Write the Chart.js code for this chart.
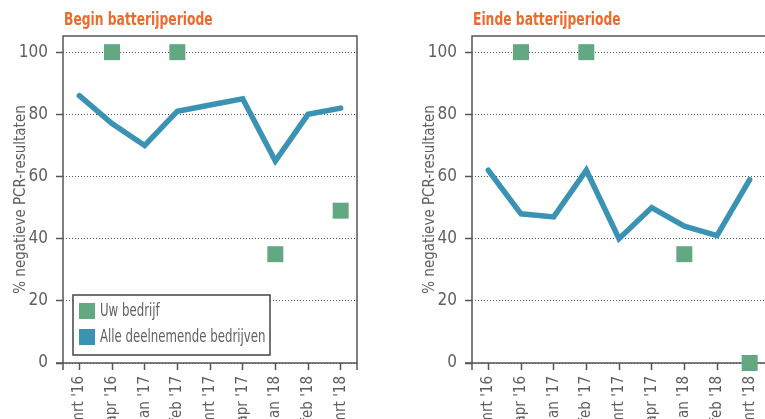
<!DOCTYPE html>
<html>
<head>
<meta charset="utf-8">
<script src="https://cdn.jsdelivr.net/npm/chart.js@4.4.0/dist/chart.umd.min.js"></script>
<style>
html, body { margin: 0; padding: 0; background: #fff; overflow: hidden; width: 765px; height: 419px; }
.panel { position: absolute; top: 0; width: 370px; height: 419px; }
#left { left: 0; }
#right { left: 409px; }
</style>
</head>
<body>
<div class="panel" id="left"><canvas id="chartBegin"></canvas></div>
<div class="panel" id="right"><canvas id="chartEnd"></canvas></div>
<script>
// data
const months = ["mrt '16", "apr '16", "jan '17", "feb '17", "mrt '17", "apr '17", "jan '18", "feb '18", "mrt '18"];
const yTicks = [0, 20, 40, 60, 80, 100];
const beginAll = [86, 77, 70, 81, 83, 85, 65, 80, 82];
const beginOwn = [null, 100, null, 100, null, null, 35, null, 49];
const endAll = [62, 48, 47, 62, 40, 50, 44, 41, 59];
const endOwn = [null, 100, null, 100, null, null, 35, null, 0];

const FONT = "'DejaVu Sans Condensed', 'Liberation Sans Narrow', sans-serif";
const GREEN = '#62a883';
const BLUE = '#3a93b3';
const GREY = '#5f5f5f';
Chart.defaults.font.family = FONT;
Chart.defaults.color = GREY;

// draw text squeezed horizontally, the source uses a condensed face
function narrowText(ctx, text, x, y, squeeze) {
    ctx.save();
    ctx.translate(x, y);
    ctx.scale(squeeze, 1);
    ctx.fillText(text, 0, 0);
    ctx.restore();
}

// frame around the plot area
const framePlugin = {
    id: 'frame',
    beforeDatasetsDraw(chart) {
        const a = chart.chartArea;
        const ctx = chart.ctx;
        ctx.save();
        ctx.strokeStyle = '#555';
        ctx.lineWidth = 1.5;
        ctx.beginPath();
        ctx.moveTo(a.left, a.bottom + 7);
        ctx.lineTo(a.left, a.top);
        ctx.lineTo(a.right, a.top);
        ctx.lineTo(a.right, a.bottom + 7);
        ctx.moveTo(a.left - 7, a.bottom);
        ctx.lineTo(a.right, a.bottom);
        ctx.stroke();
        ctx.restore();
    }
};

// orange heading + optional boxed legend
const labelPlugin = {
    id: 'labels',
    afterDraw(chart, args, opts) {
        const a = chart.chartArea;
        const ctx = chart.ctx;
        ctx.save();
        ctx.fillStyle = '#eb6b2c';
        ctx.font = 'bold 18px ' + FONT;
        ctx.textBaseline = 'alphabetic';
        narrowText(ctx, opts.title, a.left + 1, 25, 0.76);

        if (opts.legend) {
            const x = a.left + 10, y = 295, w = 197, h = 60;
            ctx.fillStyle = '#fff';
            ctx.fillRect(x, y, w, h);
            ctx.strokeStyle = '#444';
            ctx.lineWidth = 1.5;
            ctx.strokeRect(x, y, w, h);
            const items = [[chart.data.datasets[0].label, GREEN], [chart.data.datasets[1].label, BLUE]];
            ctx.font = '17px ' + FONT;
            ctx.textBaseline = 'middle';
            items.forEach((it, i) => {
                const cy = y + 16 + i * 26;
                ctx.fillStyle = it[1];
                ctx.fillRect(x + 6, cy - 8, 16, 16);
                ctx.fillStyle = GREY;
                narrowText(ctx, it[0], x + 27, cy + 1, 0.77);
            });
        }
        ctx.restore();
    }
};

function makeChart(id, title, allData, ownData, legend) {
    return new Chart(document.getElementById(id), {
        type: 'line',
        data: {
            labels: months,
            datasets: [
                {
                    label: 'Uw bedrijf',
                    data: ownData,
                    showLine: false,
                    pointStyle: 'rect',
                    pointRadius: 11.3,
                    pointHoverRadius: 11.3,
                    pointBorderWidth: 0,
                    pointBackgroundColor: GREEN,
                    backgroundColor: GREEN,
                    borderColor: GREEN,
                    clip: false
                },
                {
                    label: 'Alle deelnemende bedrijven',
                    data: allData,
                    borderColor: BLUE,
                    backgroundColor: BLUE,
                    borderWidth: 5.5,
                    borderCapStyle: 'round',
                    borderJoinStyle: 'miter',
                    pointRadius: 0,
                    tension: 0,
                    clip: false
                }
            ]
        },
        options: {
            responsive: true,
            maintainAspectRatio: false,
            animation: false,
            layout: { padding: { top: 36, left: 0, right: 13, bottom: 0 } },
            plugins: {
                legend: { display: false },
                tooltip: { enabled: false },
                labels: { title: title, legend: legend }
            },
            scales: {
                x: {
                    offset: true,
                    border: { display: false },
                    grid: {
                        offset: false,
                        drawOnChartArea: false,
                        drawTicks: true,
                        tickLength: 7,
                        tickColor: '#555',
                        tickWidth: 1.5
                    },
                    ticks: {
                        autoSkip: false,
                        minRotation: 90,
                        maxRotation: 90,
                        padding: 6,
                        color: GREY,
                        font: { size: 15 }
                    },
                    afterFit(scale) { scale.height = 56; }
                },
                y: {
                    min: 0,
                    max: 105.2,
                    afterBuildTicks(scale) { scale.ticks = yTicks.map(v => ({ value: v })); },
                    border: { display: false, dash: [1, 2] },
                    grid: {
                        color: '#555',
                        lineWidth: 1,
                        tickBorderDash: [],
                        tickColor: '#555',
                        tickWidth: 1.5,
                        tickLength: 7
                    },
                    ticks: {
                        padding: 8,
                        color: GREY,
                        font: { size: 17 }
                    },
                    title: {
                        display: true,
                        text: '% negatieve PCR-resultaten',
                        color: GREY,
                        font: { size: 15 },
                        padding: { top: 12, bottom: 0 }
                    },
                    afterFit(scale) { scale.width = 63; }
                }
            }
        },
        plugins: [framePlugin, labelPlugin]
    });
}

makeChart('chartBegin', 'Begin batterijperiode', beginAll, beginOwn, true);
makeChart('chartEnd', 'Einde batterijperiode', endAll, endOwn, false);
</script>
</body>
</html>
